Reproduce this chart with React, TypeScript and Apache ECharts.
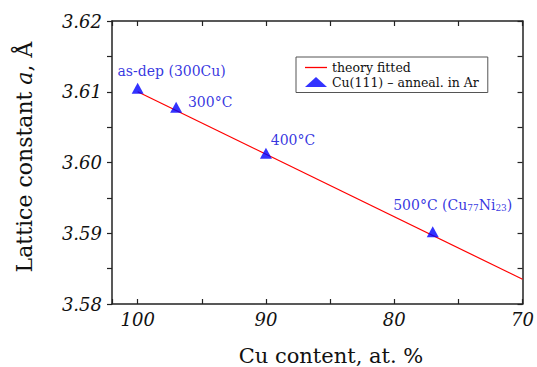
import React, { useEffect, useRef } from "react";
import * as echarts from "echarts";

// ---- data ----
const fitCu = [100, 70];
const fitA = [3.61, 3.5835];
const sampleCu = [100, 97, 90, 77];
const sampleA = [3.6105, 3.6078, 3.6013, 3.5902];
const sampleLabels = [
  "as-dep (300Cu)",
  "300°C",
  "400°C",
  "500°C (Cu{sub|77}Ni{sub|23})",
];
const xTickValues = [100, 90, 80, 70];
const yTickValues = [3.58, 3.59, 3.6, 3.61, 3.62];
const seriesNames = ["theory fitted", "Cu(111) – anneal. in Ar"];

const FONT = "'DejaVu Serif', serif";

export default function App() {
  const ref = useRef<HTMLDivElement>(null);
  useEffect(() => {
    if (!ref.current) return;
    const chart = echarts.init(ref.current, null, { renderer: "svg" });
    const labelOffsets = [
      [34, -17],
      [34, -5],
      [27, -13],
      [20, -27],
    ];
    const isXMajor = (v: number) => xTickValues.some((t) => Math.abs(t - v) < 1e-6);
    const isYMajor = (v: number) => yTickValues.some((t) => Math.abs(t - v) < 1e-6);
    const axisLine = { show: true, lineStyle: { color: "#222", width: 1.5 } };
    const tick = (inside: boolean) => ({
      show: true,
      inside,
      length: 5,
      lineStyle: { color: "#222", width: 1.2 },
    });
    chart.setOption({
      animation: false,
      backgroundColor: "#fff",
      grid: { left: 112, right: 11, top: 21, bottom: 63, containLabel: false },
      xAxis: [
        {
          type: "value",
          min: 70,
          max: 102,
          interval: 5,
          inverse: true,
          axisLine,
          axisTick: tick(true),
          splitLine: { show: false },
          axisLabel: {
            show: true,
            margin: 6,
            fontFamily: FONT,
            fontStyle: "italic",
            fontSize: 18,
            color: "#111",
            formatter: (v: number) => (isXMajor(v) ? String(v) : ""),
          },
        },
        {
          type: "value",
          position: "top",
          min: 70,
          max: 102,
          interval: 5,
          inverse: true,
          axisLine,
          axisTick: tick(true),
          splitLine: { show: false },
          axisLabel: { show: false },
        },
      ],
      yAxis: [
        {
          type: "value",
          min: 3.58,
          max: 3.62,
          interval: 0.005,
          axisLine,
          axisTick: tick(false),
          splitLine: { show: false },
          axisLabel: {
            show: true,
            margin: 10,
            fontFamily: FONT,
            fontStyle: "italic",
            fontSize: 18,
            color: "#111",
            formatter: (v: number) => (isYMajor(v) ? v.toFixed(2) : ""),
          },
        },
        {
          type: "value",
          position: "right",
          min: 3.58,
          max: 3.62,
          interval: 0.005,
          axisLine,
          axisTick: tick(true),
          splitLine: { show: false },
          axisLabel: { show: false },
        },
      ],
      legend: {
        orient: "vertical",
        left: 296,
        top: 57,
        padding: [4, 9, 4, 9],
        itemGap: 1.5,
        itemWidth: 22,
        itemHeight: 10,
        borderColor: "#555",
        borderWidth: 1,
        backgroundColor: "#fff",
        textStyle: { fontFamily: FONT, fontSize: 12.5, lineHeight: 12, color: "#111" },
        data: [
          {
            name: seriesNames[0],
            icon: "path://M0,0 L22,0 L22,1.3 L0,1.3 Z",
            itemStyle: { color: "#ff0000" },
          },
          { name: seriesNames[1], icon: "triangle" },
        ],
      },
      series: [
        {
          name: seriesNames[0],
          type: "line",
          symbol: "none",
          data: fitCu.map((c, i) => [c, fitA[i]]),
          lineStyle: { color: "#ff0000", width: 1.2 },
          itemStyle: { color: "#ff0000" },
          z: 2,
        },
        {
          name: seriesNames[1],
          type: "scatter",
          symbol: "triangle",
          symbolSize: [12, 11],
          itemStyle: { color: "#0000ff" },
          z: 3,
          label: {
            show: true,
            position: "inside",
            align: "center",
            verticalAlign: "middle",
            fontFamily: FONT,
            fontSize: 14,
            color: "#0000d8",
            textBorderWidth: 0,
            textBorderColor: "transparent",
            rich: {
              sub: {
                fontFamily: FONT,
                fontSize: 9,
                color: "#0000d8",
                textBorderWidth: 0,
                verticalAlign: "bottom",
                padding: [6, 0, 0, 0],
              },
            },
          },
          data: sampleCu.map((c, i) => ({
            value: [c, sampleA[i]],
            label: {
              offset: labelOffsets[i],
              formatter: sampleLabels[i],
              fontFamily: FONT,
            },
          })),
        },
      ],
      graphic: [
        {
          type: "text",
          x: 24,
          y: 157,
          rotation: Math.PI / 2,
          style: {
            text: "{n|Lattice constant }{i|a}{n|, Å}",
            align: "center",
            verticalAlign: "middle",
            fill: "#111",
            rich: {
              n: { fontFamily: FONT, fontSize: 22, fill: "#111" },
              i: { fontFamily: FONT, fontSize: 22, fontStyle: "italic", fill: "#111" },
            },
          },
        },
        {
          type: "text",
          x: 331,
          y: 356,
          style: {
            text: "Cu content, at. %",
            align: "center",
            verticalAlign: "middle",
            fontFamily: FONT,
            fontSize: 21,
            fill: "#111",
          },
        },
      ],
    });
    return () => chart.dispose();
  }, []);
  return <div ref={ref} style={{ width: 537, height: 367, position: "absolute", left: 0, top: 0 }} />;
}
